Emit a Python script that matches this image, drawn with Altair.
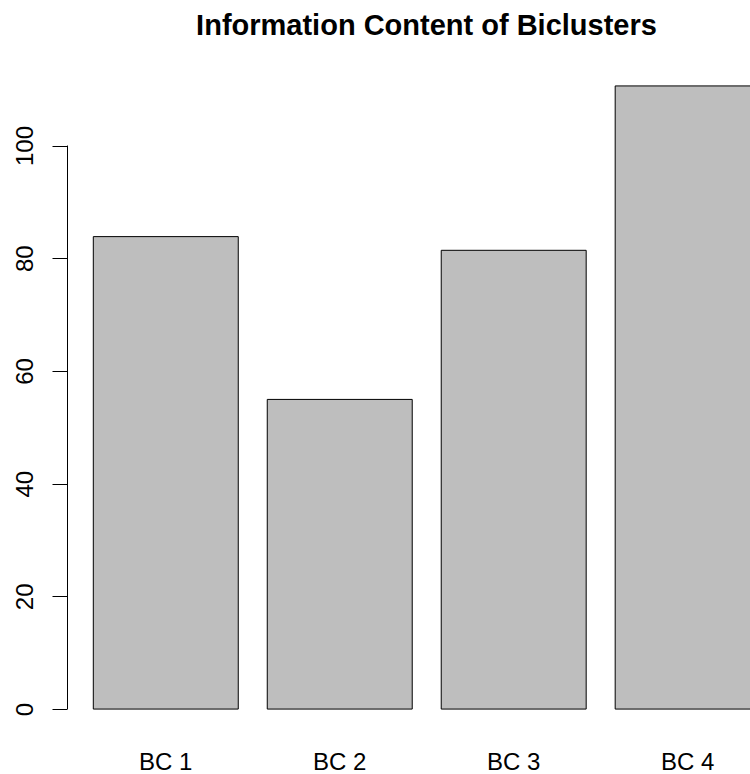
import altair as alt
import pandas as pd

# Bicluster names and their information content
names = ["BC 1", "BC 2", "BC 3", "BC 4"]
info = [83.84, 54.95, 81.41, 110.58]
y_ticks = [0, 20, 40, 60, 80, 100]
title_text = "Information Content of Biclusters"

# barplot-style geometry: unit-wide bars separated by a 0.2 gap
bar_width = 1.0
space = 0.2
lefts = [space + i * (bar_width + space) for i in range(len(names))]

bars_df = pd.DataFrame({
    "name": names,
    "value": info,
    "base": [0] * len(names),
    "x0": lefts,
    "x1": [l + bar_width for l in lefts],
    "xc": [l + bar_width / 2 for l in lefts],
})
axis_df = pd.DataFrame({"lo": [min(y_ticks)], "hi": [max(y_ticks)]})
title_df = pd.DataFrame({"t": [title_text]})

W, H = 683, 673
ymax = max(info)
y_scale = alt.Scale(domain=[-0.04 * ymax, 1.04 * ymax], nice=False, zero=False)
x_scale = alt.Scale(domain=[0.0186, 4.73], nice=False, zero=False)
FONT = "Liberation Sans"

bars = alt.Chart(bars_df).mark_bar(
    fill="#BEBEBE", stroke="black", strokeWidth=1, clip=True
).encode(
    x=alt.X("x0:Q", scale=x_scale, axis=None),
    x2="x1",
    y=alt.Y(
        "value:Q",
        scale=y_scale,
        axis=alt.Axis(
            values=y_ticks,
            grid=False,
            domain=False,
            ticks=True,
            tickSize=15,
            tickColor="black",
            tickWidth=1,
            labelAngle=270,
            labelAlign="center",
            labelBaseline="alphabetic",
            labelPadding=20,
            labelFontSize=24,
            labelFont=FONT,
            labelColor="black",
            labelOverlap=False,
            title=None,
        ),
    ),
    y2="base",
)

# axis line spanning only the labelled tick range
axis_line = alt.Chart(axis_df).mark_rule(color="black", strokeWidth=1).encode(
    x=alt.value(0.5),
    y=alt.Y("lo:Q", scale=y_scale),
    y2="hi",
)

labels = alt.Chart(bars_df).mark_text(
    fontSize=24, font=FONT, baseline="alphabetic", align="center", color="black"
).encode(
    x=alt.X("xc:Q", scale=x_scale),
    y=alt.value(H + 36),
    text="name:N",
)

title = alt.Chart(title_df).mark_text(
    fontSize=29, font=FONT, fontWeight="bold", baseline="alphabetic",
    align="center", color="black"
).encode(
    x=alt.value(359.5),
    y=alt.value(-26),
    text="t:N",
)

chart = alt.layer(bars, axis_line, labels, title).properties(
    width=W,
    height=H,
    padding={"left": 67, "top": 61, "right": 0, "bottom": 40},
    autosize=alt.AutoSizeParams(type="none"),
    background="white",
).configure_view(stroke=None)

chart.save("out.html", embed_options={"renderer": "svg", "actions": False})
